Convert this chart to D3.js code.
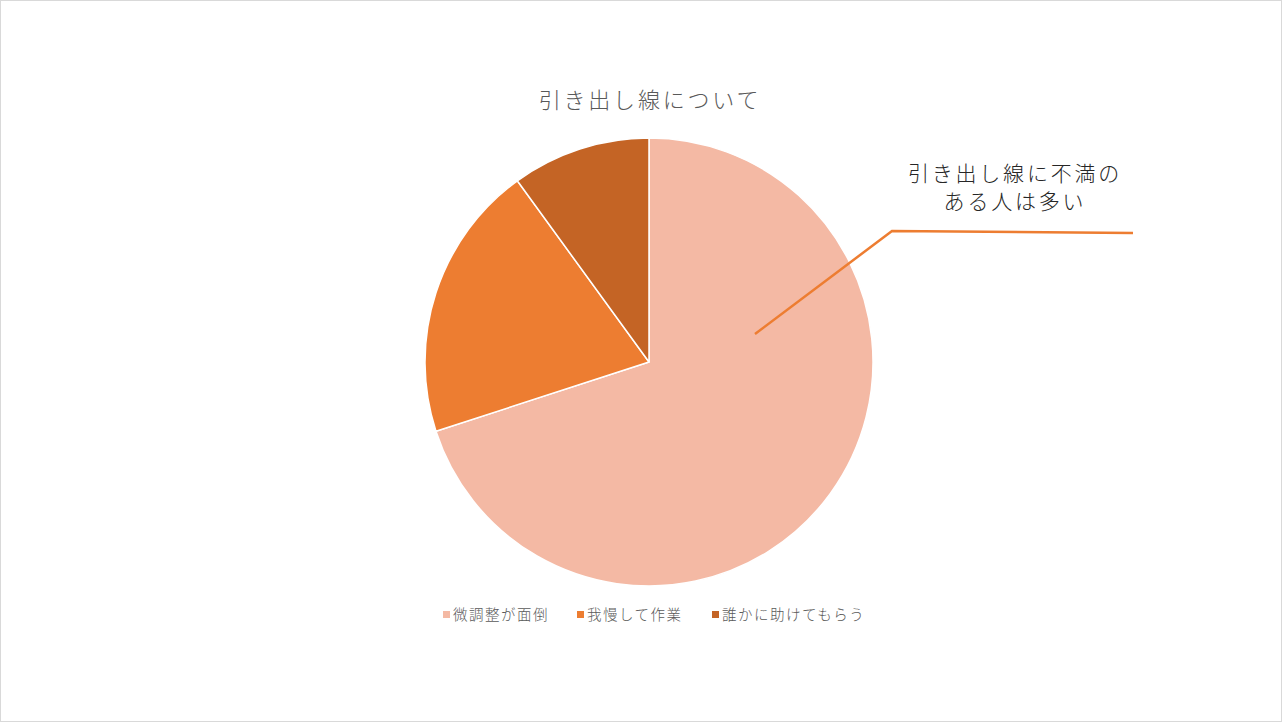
<!DOCTYPE html>
<html><head><meta charset="utf-8">
<script src="https://cdn.jsdelivr.net/npm/d3@7"></script>
<style>
html,body{margin:0;padding:0;background:#fff;}
svg{display:block;font-family:"Noto Sans CJK JP","Noto Sans",sans-serif;}
</style></head>
<body>
<svg id="chart" width="1283" height="723"></svg>
<script>
const categories = ["微調整が面倒", "我慢して作業", "誰かに助けてもらう"];
const values = [7, 2, 1];
const colors = ["#F4B9A4", "#ED7D31", "#C46425"];
const titleText = "引き出し線について";
const annotationLines = ["引き出し線に不満の", "ある人は多い"];

const svg = d3.select("#chart");
const W = 1283, H = 723;
svg.append("rect").attr("x",0.5).attr("y",0.5).attr("width",W-2).attr("height",H-2)
  .attr("fill","#fff").attr("stroke","#d9d9d9").attr("stroke-width",1);

const cx = 649, cy = 362, R = 224;
const pie = d3.pie().sort(null).value(d=>d.v);
const arc = d3.arc().innerRadius(0).outerRadius(R);
const data = categories.map((c,i)=>({c, v:values[i], col:colors[i]}));
const g = svg.append("g").attr("transform",`translate(${cx},${cy})`);
g.selectAll("path").data(pie(data)).join("path")
  .attr("d",arc).attr("fill",d=>d.data.col)
  .attr("stroke","#fff").attr("stroke-width",1.5).attr("stroke-linejoin","round");

svg.append("text").attr("x",cx+1).attr("y",108).attr("text-anchor","middle")
  .attr("font-size",22).attr("font-weight",300).attr("fill","#595959")
  .attr("letter-spacing",2.8).text(titleText);

// annotation leader line
const leader = [[755,334],[892,231],[1133,233]];
svg.append("path").attr("d",d3.line()(leader)).attr("fill","none")
  .attr("stroke","#ED7D31").attr("stroke-width",2.5);
annotationLines.forEach((t,i)=>{
  svg.append("text").attr("x",1015).attr("y",181+i*28).attr("text-anchor","middle")
    .attr("font-size",21).attr("font-weight",300).attr("fill","#262626")
    .attr("letter-spacing",2.8).text(t);
});

// legend
const legendX = [443, 577, 712];
const lg = svg.append("g");
data.forEach((d,i)=>{
  lg.append("rect").attr("x",legendX[i]).attr("y",611).attr("width",7).attr("height",7).attr("fill",d.col);
  lg.append("text").attr("x",legendX[i]+10).attr("y",620).attr("font-size",14.5)
    .attr("font-weight",300).attr("fill","#595959").attr("letter-spacing",1.5).text(d.c);
});
</script>
</body></html>
